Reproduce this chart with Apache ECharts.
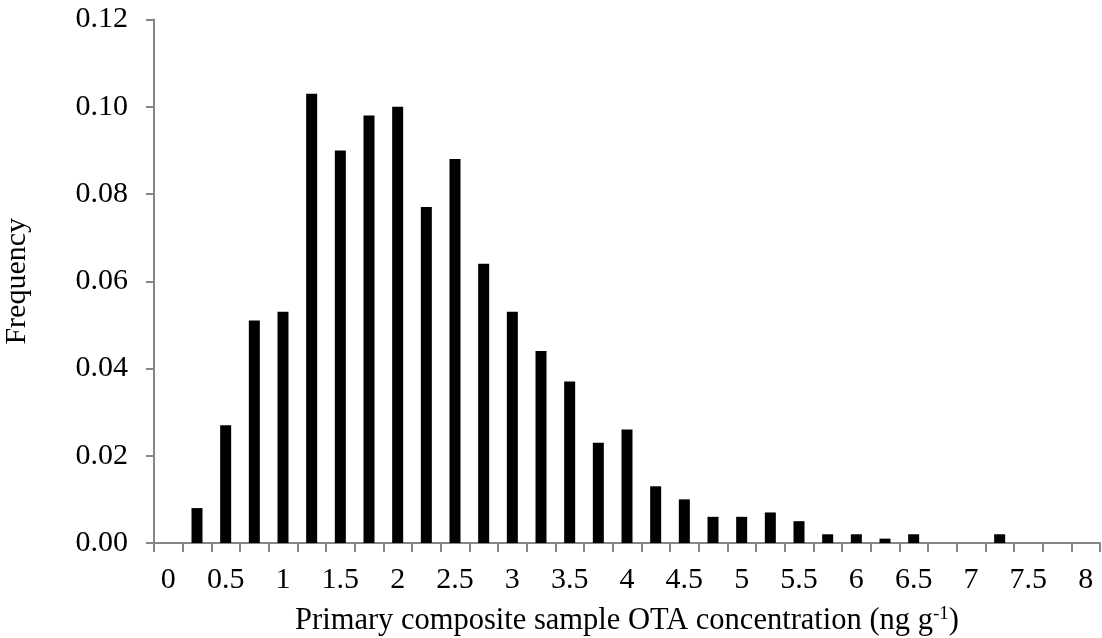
<!DOCTYPE html>
<html>
<head>
<meta charset="utf-8">
<script src="https://cdn.jsdelivr.net/npm/echarts@6/dist/echarts.min.js"></script>
<style>html,body{margin:0;padding:0;background:#fff}#c{width:1102px;height:638px}</style>
</head>
<body>
<div id="c"></div>
<script>
const categories = ['0','0.25','0.5','0.75','1','1.25','1.5','1.75','2','2.25','2.5','2.75','3','3.25','3.5','3.75','4','4.25','4.5','4.75','5','5.25','5.5','5.75','6','6.25','6.5','6.75','7','7.25','7.5','7.75','8'];
const frequency = [0,0.008,0.027,0.051,0.053,0.103,0.090,0.098,0.100,0.077,0.088,0.064,0.053,0.044,0.037,0.023,0.026,0.013,0.010,0.006,0.006,0.007,0.005,0.002,0.002,0.001,0.002,0,0,0.002,0,0,0];
const yTitle = 'Frequency';
const xTitleMain = 'Primary composite sample OTA concentration (ng g';
const xTitleSup = '-1';

const FONT = 'Liberation Serif';
const FS = 30;
const chart = echarts.init(document.getElementById('c'));
chart.setOption({
  animation: false,
  backgroundColor: '#fff',
  grid: {left: 154, right: 2, top: 19.5, bottom: 95, containLabel: false, outerBoundsMode: 'none'},
  xAxis: {
    type: 'category',
    data: categories,
    boundaryGap: true,
    axisLine: {lineStyle: {color: '#868686', width: 2}},
    axisTick: {show: true, interval: 0, length: 9, lineStyle: {color: '#868686', width: 2}},
    axisLabel: {interval: 1, color: '#000', fontFamily: FONT, fontSize: FS, margin: 22},
    name: '{a|' + xTitleMain + '}{s|' + xTitleSup + '}{a|)}',
    nameLocation: 'middle',
    nameGap: 62,
    nameTextStyle: {
      rich: {
        a: {fontFamily: FONT, fontSize: 30.5, color: '#000'},
        s: {fontFamily: FONT, fontSize: 19, color: '#000', verticalAlign: 'top', padding: [0,0,12,0]}
      }
    }
  },
  yAxis: {
    type: 'value',
    min: 0, max: 0.12, interval: 0.02,
    splitLine: {show: false},
    axisLine: {show: true, lineStyle: {color: '#868686', width: 2}},
    axisTick: {show: true, length: 8, lineStyle: {color: '#868686', width: 2}},
    axisLabel: {color: '#000', fontFamily: FONT, fontSize: FS, margin: 26, formatter: v => v.toFixed(2)},
    name: yTitle,
    nameLocation: 'middle',
    nameGap: 122,
    nameTextStyle: {fontFamily: FONT, fontSize: FS, color: '#000'}
  },
  series: [{
    type: 'bar',
    data: frequency,
    barWidth: 11,
    itemStyle: {color: '#000'}
  }]
});
</script>
</body>
</html>
